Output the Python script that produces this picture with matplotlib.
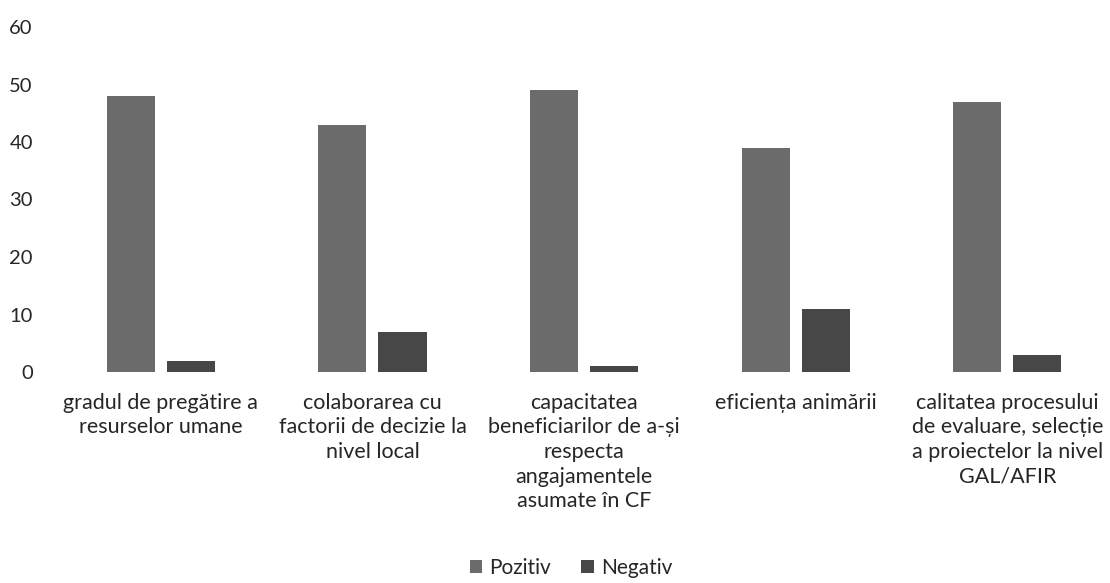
"""Grouped bar chart: Pozitiv vs Negativ evaluations per category."""

import matplotlib.pyplot as plt
import numpy as np

plt.rcParams["font.family"] = ["Lato", "DejaVu Sans"]

categories = [
    "gradul de pregătire a\nresurselor umane",
    "colaborarea cu\nfactorii de decizie la\nnivel local",
    "capacitatea\nbeneficiarilor de a-și\nrespecta\nangajamentele\nasumate în CF",
    "eficiența animării",
    "calitatea procesului\nde evaluare, selecție\na proiectelor la nivel\nGAL/AFIR",
]
pozitiv = [48, 43, 49, 39, 47]
negativ = [2, 7, 1, 11, 3]
y_ticks = [0, 10, 20, 30, 40, 50, 60]

text_color = "#262626"

fig = plt.figure(figsize=(11.10, 5.83), dpi=100)
ax = fig.add_axes([55 / 1110, 1 - 372 / 583, 1055 / 1110, (372 - 27) / 583])

x = np.arange(len(categories))
width = 0.227
offset = 0.142
ax.bar(x - offset, pozitiv, width, color="#6b6b6b", label="Pozitiv")
ax.bar(x + offset, negativ, width, color="#474747", label="Negativ")

ax.set_xlim(-0.5, 4.485)
ax.set_ylim(0, 60)
ax.set_yticks(y_ticks)
ax.set_xticks(x)
ax.set_xticklabels(categories, fontsize=15.5, color=text_color, linespacing=1.29)
ax.tick_params(axis="y", labelsize=14.5, labelcolor=text_color, length=0, pad=16)
ax.tick_params(axis="x", length=0, pad=15)
for spine in ax.spines.values():
    spine.set_visible(False)

fig.legend(
    loc="center",
    bbox_to_anchor=(571 / 1110, 1 - 568 / 583),
    ncol=2,
    frameon=False,
    fontsize=15,
    handlelength=0.6,
    handleheight=0.6,
    handletextpad=0.35,
    columnspacing=1.45,
    labelcolor=text_color,
)

fig.savefig("out.png", dpi=100)
